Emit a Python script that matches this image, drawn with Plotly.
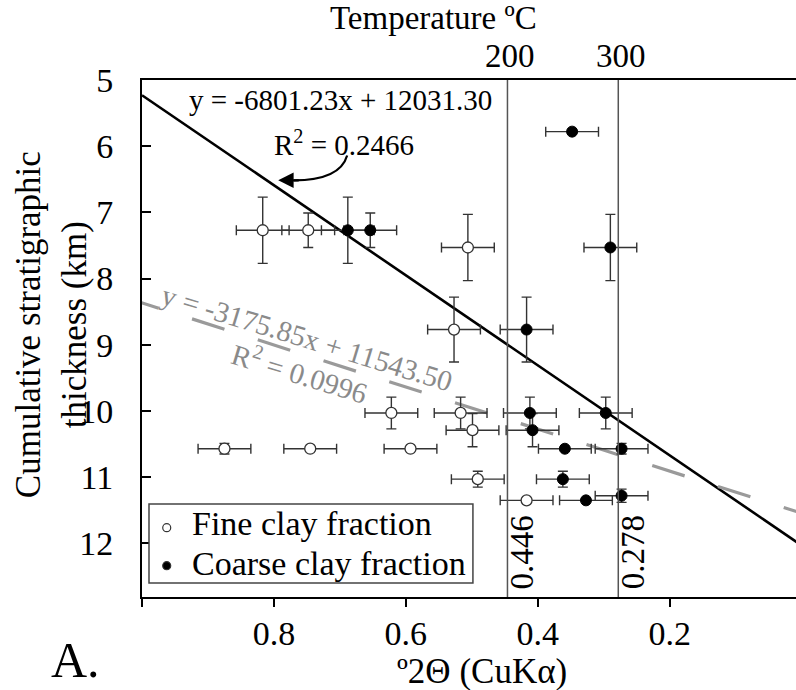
import plotly.graph_objects as go

# ---------------- data ----------------
fine_x = [0.817, 0.748, 0.506, 0.527, 0.622, 0.517, 0.499, 0.875, 0.745, 0.593, 0.491, 0.417]
fine_y = [7.27, 7.27, 7.53, 8.77, 10.03, 10.03, 10.29, 10.57, 10.57, 10.57, 11.03, 11.35]
fine_xerr = [0.04] * 12
fine_yerr = [0.5, 0.26, 0.5, 0.49, 0.24, 0.24, 0.25, 0.08, 0.0, 0.0, 0.12, 0.0]

coarse_x = [0.348, 0.688, 0.654, 0.290, 0.417, 0.412, 0.297, 0.408, 0.359, 0.273, 0.362, 0.327, 0.273]
coarse_y = [5.78, 7.27, 7.27, 7.53, 8.77, 10.03, 10.03, 10.29, 10.57, 10.57, 11.03, 11.35, 11.28]
coarse_xerr = [0.04] * 13
coarse_yerr = [0.0, 0.5, 0.26, 0.5, 0.49, 0.24, 0.24, 0.25, 0.0, 0.08, 0.12, 0.0, 0.1]

fit_all = {"slope": -6801.23, "intercept": 12031.30, "r2": 0.2466}
fit_fine = {"slope": -3175.85, "intercept": 11543.50, "r2": 0.0996}

temp_x = [0.446, 0.278]
temp_labels = ["200", "300"]

x_ticks = [1.0, 0.8, 0.6, 0.4, 0.2]
x_ticklabels = ["", "0.8", "0.6", "0.4", "0.2"]
y_ticks = [5, 6, 7, 8, 9, 10, 11, 12]

legend_names = ["Fine clay fraction", "Coarse clay fraction"]

FONT = "Liberation Serif, Times New Roman, serif"
X_RANGE = [1.0, 0.0086]
Y_RANGE = [12.81, 5]

fig = go.Figure()

# regression lines (km = m / 1000)
xs_a = [1.0, 0.0]
fig.add_trace(go.Scatter(
    x=xs_a, y=[(fit_all["slope"] * v + fit_all["intercept"]) / 1000 for v in xs_a],
    mode="lines", line=dict(color="black", width=2.6), showlegend=False, hoverinfo="skip"))
xs_f = [1.0238, 0.0]
fig.add_trace(go.Scatter(
    x=xs_f, y=[(fit_fine["slope"] * v + fit_fine["intercept"]) / 1000 for v in xs_f],
    mode="lines", line=dict(color="#9a9a9a", width=3.2, dash="34px,35px"),
    showlegend=False, hoverinfo="skip"))

# temperature marker lines
for tx in temp_x:
    fig.add_shape(type="line", x0=tx, x1=tx, y0=0, y1=1, xref="x", yref="paper",
                  line=dict(color="#555555", width=1.5))

err_style = dict(color="#333333", thickness=1.4, width=5)

fig.add_trace(go.Scatter(
    x=fine_x, y=fine_y, mode="markers", name=legend_names[0],
    error_x=dict(type="data", array=fine_xerr, **err_style),
    error_y=dict(type="data", array=fine_yerr, **err_style),
    marker=dict(symbol="circle", size=11, color="white", line=dict(color="#333333", width=1.3)),
    showlegend=False))
fig.add_trace(go.Scatter(
    x=coarse_x, y=coarse_y, mode="markers", name=legend_names[1],
    error_x=dict(type="data", array=coarse_xerr, **err_style),
    error_y=dict(type="data", array=coarse_yerr, **err_style),
    marker=dict(symbol="circle", size=11, color="black", line=dict(color="black", width=1)),
    showlegend=False))

ann = []
# equations
ann.append(dict(x=0.6995, y=5.30, xref="x", yref="y", showarrow=False,
                xanchor="center", yanchor="middle",
                text="y = %.2fx + %.2f" % (fit_all["slope"], fit_all["intercept"]),
                font=dict(size=29, color="black", family=FONT)))
ann.append(dict(x=0.6935, y=5.955, xref="x", yref="y", showarrow=False,
                xanchor="center", yanchor="middle",
                text="R<sup>2</sup> = %.4f" % fit_all["r2"],
                font=dict(size=29, color="black", family=FONT)))
ann.append(dict(x=0.7495, y=8.894, xref="x", yref="y", showarrow=False, textangle=17,
                xanchor="center", yanchor="middle",
                text="y = %.2fx + %.2f" % (fit_fine["slope"], fit_fine["intercept"]),
                font=dict(size=29, color="#8a8a8a", family=FONT)))
ann.append(dict(x=0.76, y=9.41, xref="x", yref="y", showarrow=False, textangle=17,
                xanchor="center", yanchor="middle",
                text="R<sup>2</sup> = %.4f" % fit_fine["r2"],
                font=dict(size=29, color="#8a8a8a", family=FONT)))
# arrow head
ann.append(dict(x=0.7935, y=6.515, xref="x", yref="y", ax=22, ay=0, text="",
                showarrow=True, arrowhead=2, arrowsize=1.4, arrowwidth=2.2, arrowcolor="black"))
# threshold labels
for tx in temp_x:
    ann.append(dict(x=tx, y=0, xref="x", yref="paper", xanchor="left", yanchor="bottom",
                    xshift=-5, yshift=6, showarrow=False, textangle=-90, text="%.3f" % tx,
                    font=dict(size=33, color="black", family=FONT)))
# temperature axis labels
for tx, lab in zip(temp_x, temp_labels):
    ann.append(dict(x=tx, y=1, xref="x", yref="paper", xanchor="center", yanchor="bottom",
                    yshift=4, xshift=3, showarrow=False, text=lab,
                    font=dict(size=33, color="black", family=FONT)))
ann.append(dict(x=0.445, y=1.12, xref="paper", yref="paper", showarrow=False,
                xanchor="center", yanchor="middle",
                text="Temperature ºC", font=dict(size=33, color="black", family=FONT)))
ann.append(dict(x=0.52, y=-0.145, xref="paper", yref="paper", showarrow=False,
                xanchor="center", yanchor="middle",
                text="º2Θ (CuKα)", font=dict(size=35, color="black", family=FONT)))
ann.append(dict(x=-0.139, y=0.526, xref="paper", yref="paper", showarrow=False, textangle=-90,
                xanchor="center", yanchor="middle",
                text="Cumulative stratigraphic<br>thickness (km)",
                font=dict(size=35, color="black", family=FONT)))
ann.append(dict(x=-0.101, y=-0.1799, xref="paper", yref="paper", showarrow=False,
                xanchor="center", yanchor="bottom",
                text="A.", font=dict(size=50, color="black", family=FONT)))

# legend (box, symbols, labels)
fig.add_shape(type="rect", xref="paper", yref="paper", x0=0.0107, x1=0.506, y0=0.0271, y1=0.180,
              line=dict(color="#444444", width=1.5), fillcolor="white", layer="above")
leg_y = [0.1340, 0.0605]
leg_fill = ["white", "black"]
for ly, fc in zip(leg_y, leg_fill):
    fig.add_shape(type="circle", xref="paper", yref="paper", xsizemode="pixel", ysizemode="pixel",
                  xanchor=0.0378, yanchor=ly, x0=-4, x1=4, y0=-4, y1=4,
                  line=dict(color="#333333", width=1.2), fillcolor=fc, layer="above")
for ly, name in zip([0.142, 0.0648], legend_names):
    ann.append(dict(x=0.0734, y=ly, xref="paper", yref="paper", showarrow=False,
                    xanchor="left", yanchor="middle", text=name,
                    font=dict(size=34, color="black", family=FONT)))

# curved arrow body
fig.add_shape(type="path", xref="x", yref="y",
              path="M 0.689,6.14 Q 0.700,6.515 0.770,6.515",
              line=dict(color="black", width=2.2))

fig.update_layout(
    width=796, height=690,
    margin=dict(l=142, r=0, t=80, b=93),
    paper_bgcolor="white", plot_bgcolor="white",
    font=dict(family=FONT, size=33, color="black"),
    annotations=ann,
    showlegend=False,
    xaxis=dict(range=X_RANGE, tickvals=x_ticks, ticktext=x_ticklabels,
               showgrid=False, zeroline=False, showline=True, linecolor="black", linewidth=2,
               mirror=True, ticks="outside", ticklen=8, tickwidth=1.5, tickcolor="black",
               ticklabelstandoff=-3,
               tickfont=dict(size=34, family=FONT)),
    yaxis=dict(range=Y_RANGE, tickvals=y_ticks,
               showgrid=False, zeroline=False, showline=True, linecolor="black", linewidth=2,
               ticks="inside", ticklen=9, tickwidth=1.5, tickcolor="black",
               ticklabelstandoff=20, tickfont=dict(size=34, family=FONT)),
)

fig.write_html("out.html", config={"displayModeBar": False},
               post_script="document.body.style.margin='0';document.body.style.overflow='hidden';")
